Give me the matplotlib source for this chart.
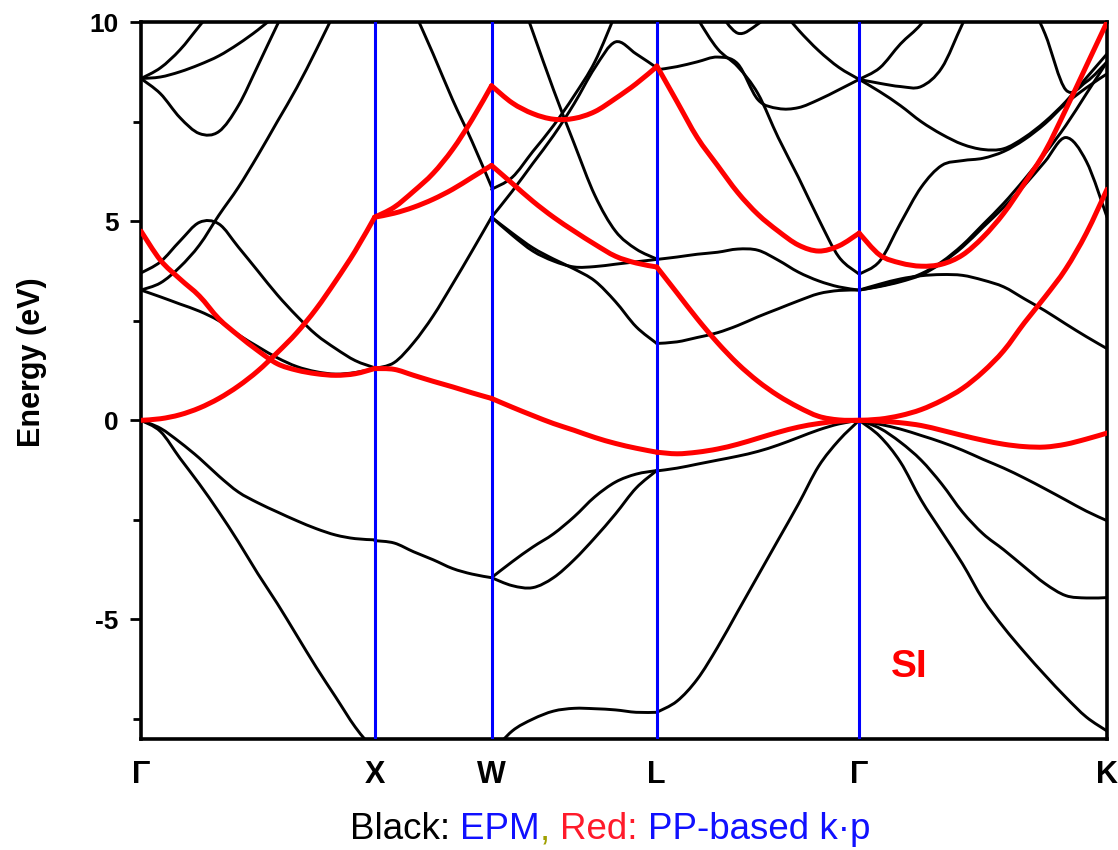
import numpy as np
import matplotlib
matplotlib.use("Agg")
import matplotlib.pyplot as plt
from matplotlib.path import Path
from matplotlib.patches import PathPatch
from matplotlib.ticker import MultipleLocator

plt.rcParams["axes.unicode_minus"] = False

nan = float("nan")

# high-symmetry points along the path (units of 2*pi/a)
sym_labels = ["Γ", "X", "W", "L", "Γ", "K"]
sym_k = [0.0, 1.0, 1.5, 2.2071, 3.0731, 4.1338]

# ---- EPM bands (black), energies in eV on an even grid along each segment ----
# Gamma -> X
gx_v1 = [0, -0.28, -0.95, -1.6, -2.3, -3.05, -3.85, -4.6, -5.4, -6.2, -6.95, -7.7, -8.3]
gx_v2 = [0, -0.2, -0.55, -0.95, -1.4, -1.8, -2.07, -2.3, -2.52, -2.72, -2.88, -2.97, -3.0]
gx_c1 = [3.27, 3.1, 2.92, 2.74, 2.5, 2.15, 1.85, 1.57, 1.35, 1.22, 1.16, 1.2, 1.3]
gx_c2 = [3.7, 3.98, 4.5, 4.97, 4.93, 4.35, 3.75, 3.15, 2.62, 2.15, 1.8, 1.5, 1.32]
gx_c3 = [3.27, 3.45, 3.85, 4.4, 5.15, 5.85, 6.65, 7.5, 8.35, 9.3, 10.3, nan, nan]
gx_c4 = [8.58, 8.85, 9.3, 9.9, 10.5, nan, nan, nan, nan, nan, nan, nan, nan]
gx_c5 = [8.58, 8.62, 8.75, 8.93, 9.15, 9.45, 9.8, 10.2, nan, nan, nan, nan, nan]
gx_c6 = [8.58, 8.2, 7.6, 7.2, 7.25, 7.9, 8.9, 9.93, 10.9, nan, nan, nan, nan]
# X -> W
xw_v2 = [-3.02, -3.08, -3.3, -3.5, -3.72, -3.86, -3.95]
xw_c1 = [1.3, 1.45, 1.95, 2.62, 3.42, 4.25, 5.1]
xw_c2 = [nan, 11.4, 10.3, 9.2, 8.05, 7.0, 5.86]
# W -> L
wl_v1 = [-8.35, -7.8, -7.5, -7.3, -7.23, -7.24, -7.27, -7.33, -7.33]
wl_v2 = [-3.95, -3.55, -3.18, -2.85, -2.42, -1.92, -1.55, -1.35, -1.26]
wl_v3 = [-3.95, -4.15, -4.2, -3.95, -3.5, -2.95, -2.35, -1.7, -1.26]
wl_c1 = [5.1, 4.7, 4.33, 4.05, 3.8, 3.5, 2.98, 2.35, 1.93]
wl_c2 = [5.1, 4.65, 4.25, 4.0, 3.85, 3.86, 3.92, 3.98, 4.04]
wl_c3 = [nan, 11.2, 9.75, 8.3, 6.95, 5.65, 4.75, 4.3, 4.05]
wl_c4 = [5.8, 6.1, 6.75, 7.4, 8.15, 9.0, 10.2, nan, nan]
wl_c5 = [5.1, 5.75, 6.45, 7.15, 7.95, 8.85, 9.5, 9.2, 8.85]
# L -> Gamma
lg_v1 = [-7.33, -7.05, -6.5, -5.7, -4.8, -3.9, -3.0, -2.1, -1.15, -0.5, 0]
lg_v2 = [-1.27, -1.2, -1.1, -1.0, -0.9, -0.78, -0.62, -0.43, -0.24, -0.09, 0]
lg_c1 = [1.93, 1.97, 2.08, 2.2, 2.38, 2.6, 2.8, 3.0, 3.18, 3.26, 3.27]
lg_c2 = [4.04, 4.1, 4.17, 4.22, 4.3, 4.27, 4.02, 3.72, 3.5, 3.35, 3.27]
lg_c3 = [nan, 11.0, 10.1, 9.33, 8.88, 8.2, 7.1, 6.1, 5.05, 4.1, 3.67]
lg_c4 = [8.8, 8.88, 9.0, 9.12, 8.95, 8.05, 7.83, 7.85, 8.05, 8.3, 8.56]
lg_c5 = [nan, nan, nan, nan, nan, nan, 10.4, 9.8, 9.28, 8.86, 8.56]
lg_c6 = [nan, nan, nan, 10.3, 9.72, 9.95, 10.4, nan, nan, nan, nan]
# Gamma -> K
gk_v1 = [0, -0.1, -0.22, -0.38, -0.55, -0.75, -0.98, -1.2, -1.45, -1.72, -2.0, -2.28, -2.52]
gk_v2 = [0, -0.2, -0.55, -1.0, -1.6, -2.3, -2.85, -3.25, -3.68, -4.1, -4.4, -4.46, -4.45]
gk_v3 = [0, -0.4, -1.05, -2.0, -2.8, -3.6, -4.5, -5.2, -5.82, -6.4, -6.95, -7.45, -7.8]
gk_c1 = [3.27, 3.42, 3.55, 3.63, 3.66, 3.64, 3.52, 3.35, 3.05, 2.75, 2.42, 2.1, 1.8]
gk_c2 = [3.27, 3.36, 3.48, 3.65, 3.95, 4.35, 4.85, 5.35, 5.9, 6.5, 7.1, 6.5, 5.1]
gk_c3 = [3.27, 3.37, 3.5, 3.68, 3.98, 4.4, 4.92, 5.45, 6.05, 6.7, 7.4, 8.2, 9.0]
gk_c4 = [3.67, 4.0, 4.95, 5.85, 6.4, 6.52, 6.58, 6.75, 7.05, 7.45, 7.95, 8.35, 8.7]
gk_c5 = [8.56, 8.25, 7.9, 7.5, 7.18, 6.93, 6.8, 6.82, 7.1, 7.5, 8.0, 8.6, 9.2]
gk_c6 = [8.56, 8.46, 8.38, 8.38, 8.85, 9.95, 11.0, nan, nan, nan, nan, nan, nan]
gk_c7 = [8.56, 8.85, 9.45, 9.95, 10.7, nan, nan, nan, nan, nan, nan, nan, nan]
gk_c8 = [nan, nan, nan, nan, nan, nan, nan, nan, 10.8, 9.7, 8.3, 8.5, 9.0]

# ---- pseudopotential-based k.p bands (red) ----
gx_r1 = [0, 0.04, 0.14, 0.31, 0.55, 0.86, 1.24, 1.7, 2.2, 2.8, 3.5, 4.25, 5.1]
gx_r2 = [4.75, 4.02, 3.55, 3.12, 2.55, 2.13, 1.75, 1.42, 1.26, 1.17, 1.13, 1.17, 1.3]
xw_r2 = [1.3, 1.28, 1.13, 0.98, 0.84, 0.69, 0.55]
xw_r3 = [5.1, 5.35, 5.75, 6.2, 6.8, 7.55, 8.4]
xw_r4 = [5.1, 5.2, 5.35, 5.55, 5.8, 6.1, 6.4]
wl_r2 = [0.55, 0.33, 0.12, -0.08, -0.25, -0.43, -0.58, -0.7, -0.8]
wl_r3 = [8.4, 7.97, 7.7, 7.56, 7.58, 7.75, 8.08, 8.45, 8.88]
wl_r4 = [6.4, 5.95, 5.5, 5.1, 4.75, 4.42, 4.12, 3.95, 3.85]
lg_r2 = [-0.8, -0.84, -0.8, -0.72, -0.6, -0.45, -0.3, -0.17, -0.08, -0.02, 0]
lg_r3 = [8.9, 8.0, 7.1, 6.4, 5.72, 5.17, 4.75, 4.4, 4.25, 4.38, 4.7]
lg_r4 = [3.85, 3.2, 2.55, 1.95, 1.42, 0.98, 0.62, 0.33, 0.1, 0.01, 0]
gk_r1 = [0, -0.02, -0.06, -0.13, -0.25, -0.38, -0.5, -0.6, -0.66, -0.67, -0.6, -0.47, -0.32]
gk_r2 = [0, 0.03, 0.12, 0.27, 0.5, 0.8, 1.22, 1.75, 2.45, 3.1, 3.8, 4.7, 5.8]
gk_r3 = [4.7, 4.15, 3.95, 3.87, 3.92, 4.15, 4.6, 5.2, 5.95, 6.75, 7.8, 8.9, 10.0]

# segment index -> (black bands, red bands)
segments = [
    (0, [gx_v1, gx_v2, gx_c1, gx_c2, gx_c3, gx_c4, gx_c5, gx_c6], [gx_r1, gx_r2]),
    (1, [xw_v2, xw_c1, xw_c2], [xw_r2, xw_r3, xw_r4]),
    (2, [wl_v1, wl_v2, wl_v3, wl_c1, wl_c2, wl_c3, wl_c4, wl_c5], [wl_r2, wl_r3, wl_r4]),
    (3, [lg_v1, lg_v2, lg_c1, lg_c2, lg_c3, lg_c4, lg_c5, lg_c6], [lg_r2, lg_r3, lg_r4]),
    (4, [gk_v1, gk_v2, gk_v3, gk_c1, gk_c2, gk_c3, gk_c4, gk_c5, gk_c6, gk_c7, gk_c8],
     [gk_r1, gk_r2, gk_r3]),
]

FONT = "Liberation Sans"


def band_paths(k, e):
    """Smooth cubic paths through the sampled points (one per unbroken run)."""
    ok = np.isfinite(e)
    runs, cur = [], []
    for i, good in enumerate(ok):
        if good:
            cur.append(i)
        elif cur:
            runs.append(cur)
            cur = []
    if cur:
        runs.append(cur)
    paths = []
    for run in runs:
        pts = np.column_stack([k[run], e[run]])
        n = len(pts)
        if n < 2:
            continue
        verts, codes = [pts[0]], [Path.MOVETO]
        for i in range(n - 1):
            p0 = pts[max(i - 1, 0)]
            p1, p2 = pts[i], pts[i + 1]
            p3 = pts[min(i + 2, n - 1)]
            verts += [p1 + (p2 - p0) / 6.0, p2 - (p3 - p1) / 6.0, p2]
            codes += [Path.CURVE4] * 3
        paths.append(Path(verts, codes))
    return paths


fig = plt.figure(figsize=(11.18, 8.5), dpi=100)
ax = fig.add_axes([0.1261, 0.1306, 0.8641, 0.8435])

for idx, black, red in segments:
    k0, k1 = sym_k[idx], sym_k[idx + 1]
    for bands, col, lw, z in ((black, "black", 2.1, 2), (red, "#ff0000", 3.6, 4)):
        for band in bands:
            e = np.asarray(band, dtype=float)
            k = np.linspace(k0, k1, len(e))
            for p in band_paths(k, e):
                ax.add_patch(PathPatch(p, fill=False, edgecolor=col, lw=lw,
                                       capstyle="round", joinstyle="round", zorder=z))

for kx in sym_k[1:-1]:
    ax.axvline(kx, color="#0000ff", lw=2.2, zorder=3)

ax.set_xlim(sym_k[0], sym_k[-1])
ax.set_ylim(-8, 10)

ax.set_xticks(sym_k)
ax.set_xticklabels(sym_labels, fontsize=22, fontweight="bold", family=FONT)
ax.tick_params(axis="x", length=0, pad=15)

ax.yaxis.set_major_locator(MultipleLocator(5))
ax.yaxis.set_minor_locator(MultipleLocator(2.5))
ax.tick_params(axis="y", which="major", direction="out", length=8, width=2, pad=8,
               labelsize=19)
ax.tick_params(axis="y", which="minor", direction="out", length=6, width=2)
for lab in ax.get_yticklabels():
    lab.set_fontweight("bold")
    lab.set_family(FONT)

for side in ["left", "bottom", "top", "right"]:
    ax.spines[side].set_linewidth(2.6)
    ax.spines[side].set_color("black")

ax.set_ylabel("Energy (eV)", fontsize=22, fontweight="bold", family=FONT)
ax.yaxis.set_label_coords(-0.097, 0.526)

ax.text(3.21, -6.2, "SI", color="#ff0000", fontsize=28, fontweight="bold",
        family=FONT, ha="left", va="center")

# two-colour caption under the axes
renderer = fig.canvas.get_renderer()
pieces = [("Black:", "black", True), ("EPM", "#1010ff", False), (",", "#a0a000", True),
          ("Red:", "#ff1a2a", True), ("PP-based k·p", "#1010ff", False)]
fs = 26.5
texts = []
for s, c, _ in pieces:
    texts.append(fig.text(0, 0.024, s, color=c, fontsize=fs, family=FONT,
                          va="center", ha="left"))
space_w = fs * 100 / 72 * 0.278 / fig.bbox.width
widths = [t.get_window_extent(renderer).width / fig.bbox.width for t in texts]
total = sum(widths) + space_w * sum(1 for p in pieces[:-1] if p[2])
x = 0.5456 - total / 2
for t, w, p in zip(texts, widths, pieces):
    t.set_x(x)
    x += w + (space_w if p[2] else 0)

fig.savefig("out.png", dpi=100)
